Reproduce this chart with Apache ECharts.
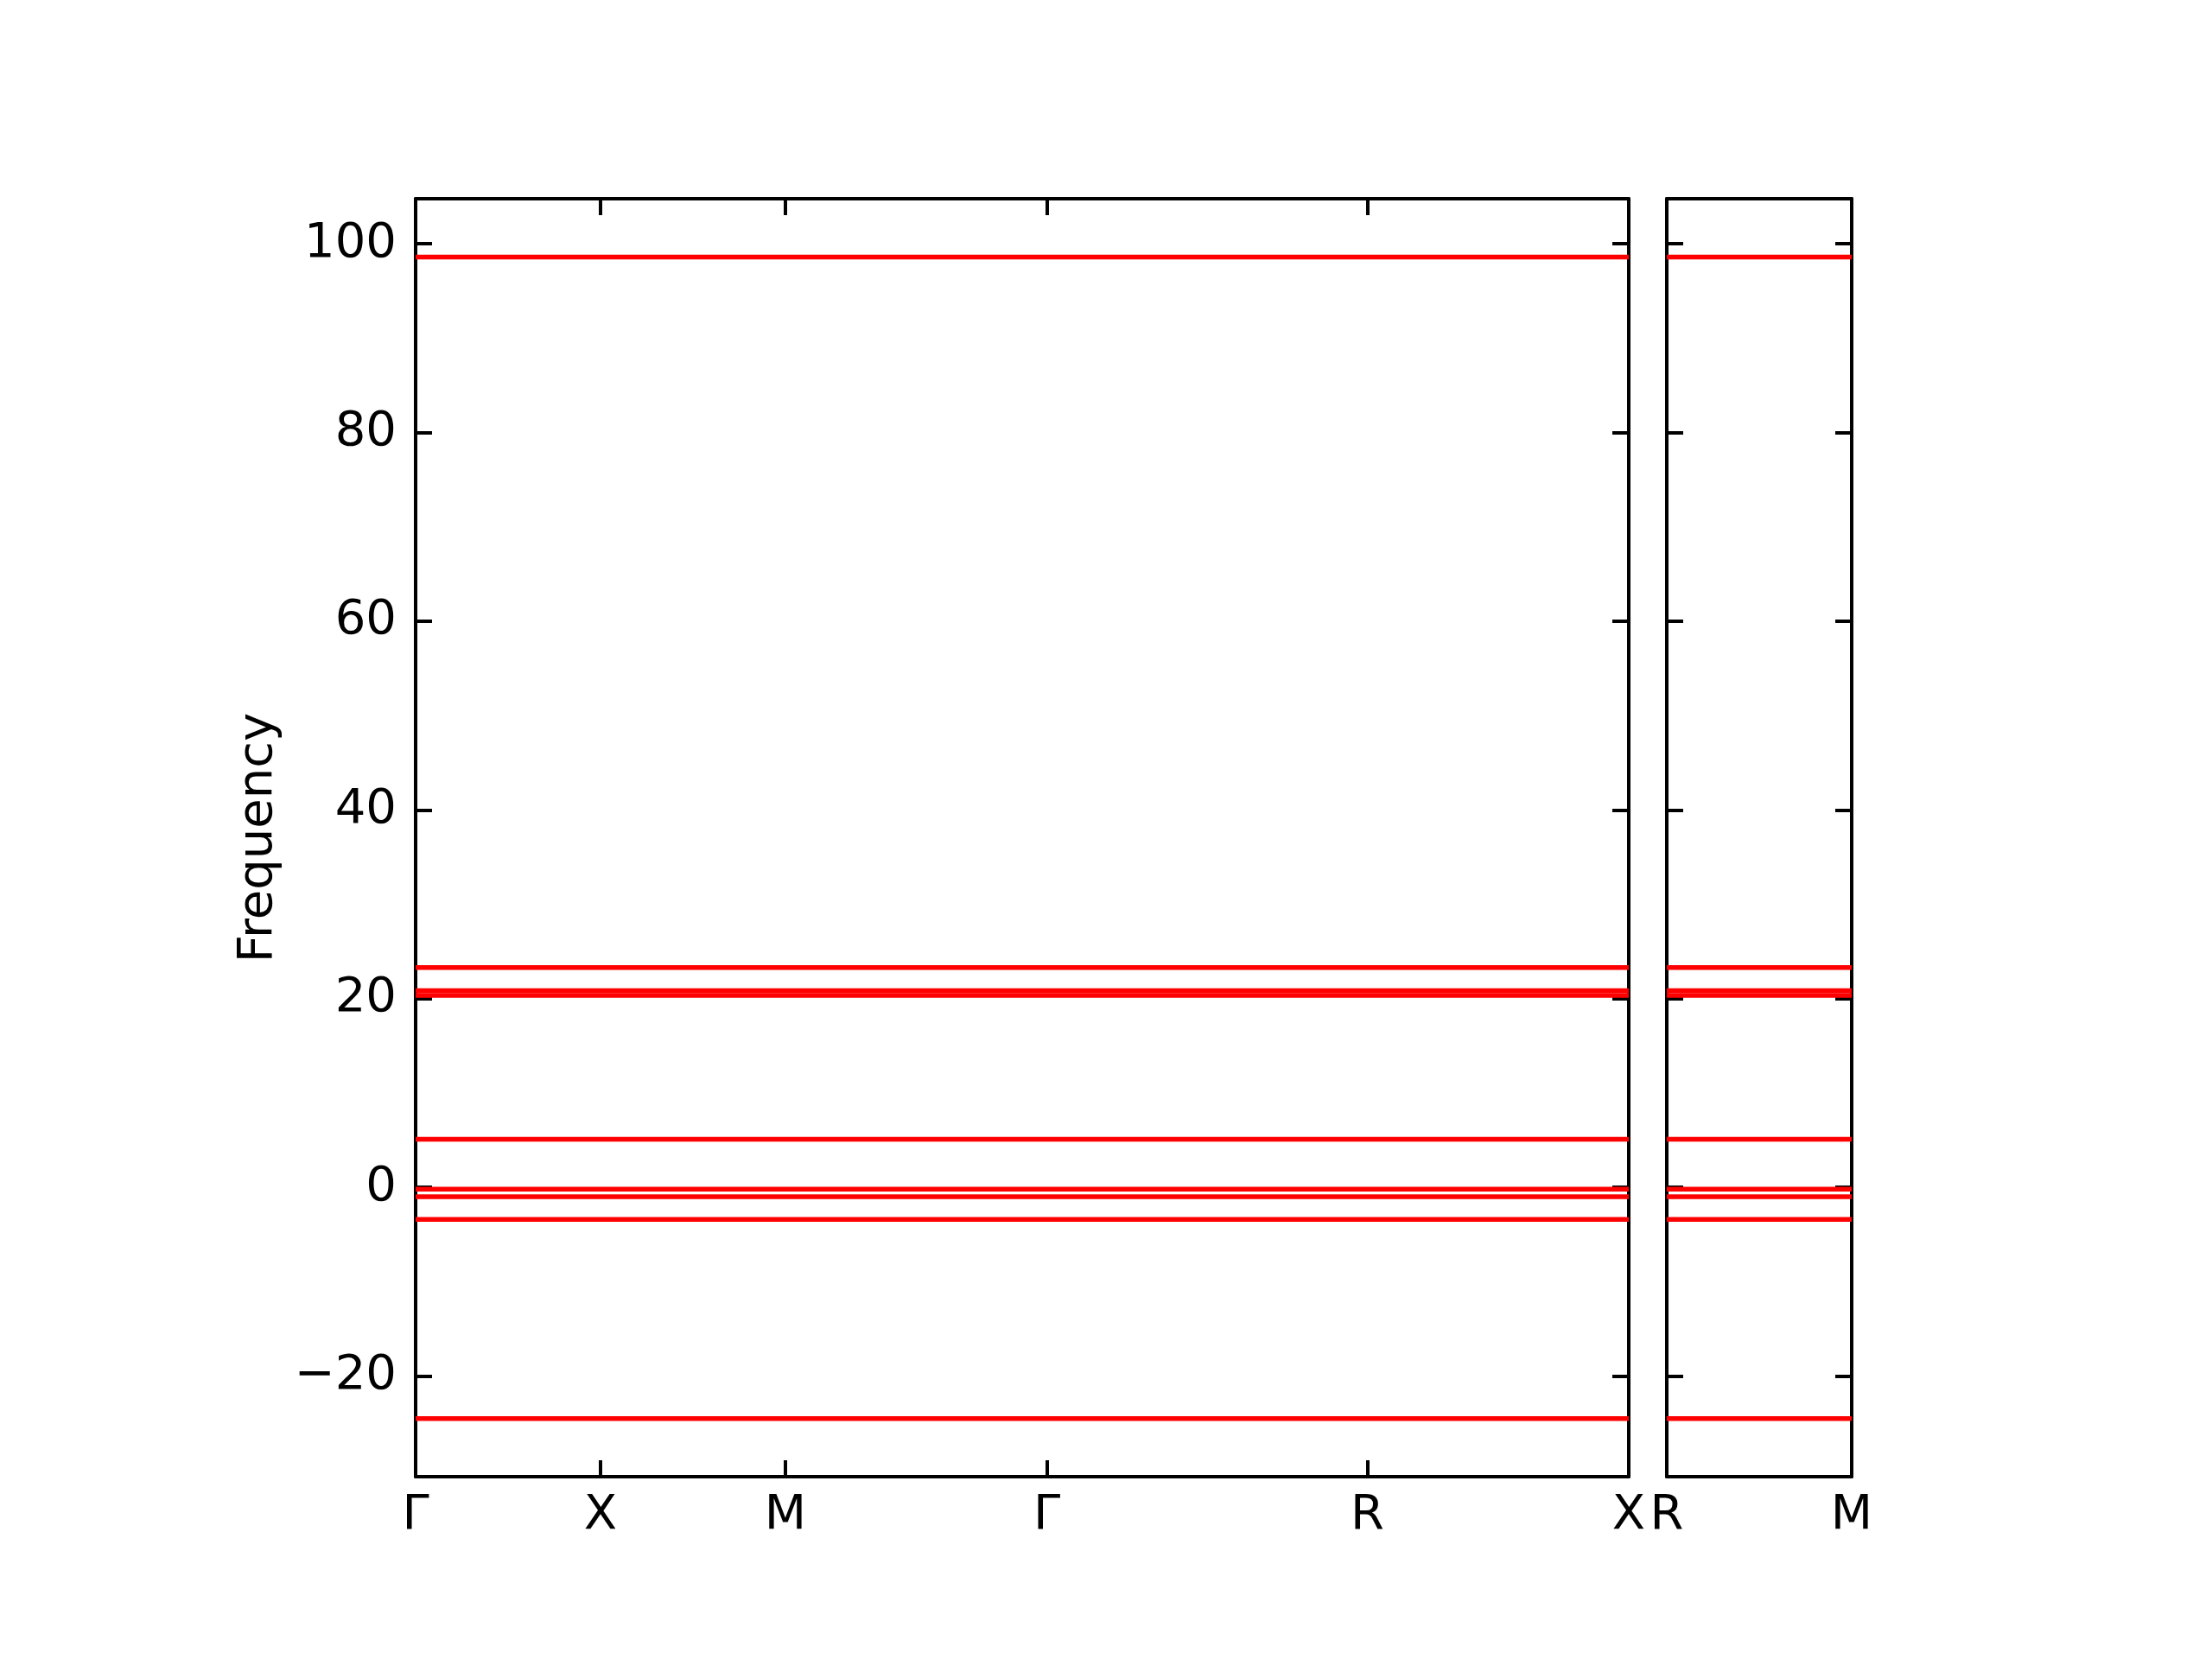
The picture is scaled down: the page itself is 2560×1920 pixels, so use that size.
<!DOCTYPE html>
<html>
<head>
<meta charset="utf-8">
<script src="https://cdn.jsdelivr.net/npm/echarts@6/dist/echarts.min.js"></script>
<style>
html,body{margin:0;padding:0;background:#fff;}
#chart{width:2560px;height:1920px;}
</style>
</head>
<body>
<div id="chart"></div>
<script>
// ---- data ----
const path1Ticks = [0, 0.5, 1.0, 1.7071, 2.5731, 3.2802];
const path1Labels = ['Γ', 'X', 'M', 'Γ', 'R', 'X'];
const path2Ticks = [3.2802, 3.7802];
const path2Labels = ['R', 'M'];
const bandFreqs = [98.6, 23.3, 20.85, 20.35, 5.1, -0.2, -1.0, -3.4, -24.5];
const yTickValues = [-20, 0, 20, 40, 60, 80, 100];
const yMin = -30.66, yMax = 104.77;
const yLabelName = 'Frequency';

// ---- chart ----
const FONT = '"DejaVu Sans", sans-serif';
const FS = 56;
const black = '#000';

function labelFor(ticks, labels) {
  return function (v) {
    for (let i = 0; i < ticks.length; i++) {
      if (Math.abs(ticks[i] - v) < 1e-6) return labels[i];
    }
    return '';
  };
}
function fmtY(v) {
  return v < 0 ? '\u2212' + Math.abs(v) : String(v);
}

const grids = [
  {left: 481, top: 230, width: 1404, height: 1479},
  {left: 1929, top: 230, width: 214, height: 1479}
];

function xAx(gridIndex, pos, ticks, labels, showLabel) {
  return {
    type: 'value', gridIndex: gridIndex, position: pos,
    min: ticks[0], max: ticks[ticks.length - 1],
    axisLine: {show: true, onZero: false, lineStyle: {color: black, width: 4}},
    axisTick: {show: true, inside: true, length: 19, customValues: ticks, lineStyle: {color: black, width: 4}},
    axisLabel: {show: showLabel, customValues: ticks, formatter: labelFor(ticks, labels),
      fontFamily: FONT, fontSize: FS, color: black, margin: 17},
    splitLine: {show: false}
  };
}
function yAx(gridIndex, pos, showLabel, name) {
  const a = {
    type: 'value', gridIndex: gridIndex, position: pos,
    min: yMin, max: yMax,
    axisLine: {show: true, onZero: false, lineStyle: {color: black, width: 4}},
    axisTick: {show: true, inside: true, length: 19, customValues: yTickValues, lineStyle: {color: black, width: 4}},
    axisLabel: {show: showLabel, customValues: yTickValues, formatter: fmtY,
      fontFamily: FONT, fontSize: FS, color: black, margin: 22, padding: [16, 0, 0, 0]},
    splitLine: {show: false}
  };
  if (name) {
    a.name = name;
    a.nameLocation = 'middle';
    a.nameGap = 154;
    a.nameTextStyle = {fontFamily: FONT, fontSize: FS, color: black};
  }
  return a;
}

const series = [];
bandFreqs.forEach(function (f) {
  series.push({
    type: 'line', xAxisIndex: 0, yAxisIndex: 0,
    data: [[path1Ticks[0], f], [path1Ticks[path1Ticks.length - 1], f]],
    symbol: 'none', lineStyle: {color: '#ff0000', width: 5.5}, silent: true, animation: false
  });
  series.push({
    type: 'line', xAxisIndex: 2, yAxisIndex: 2,
    data: [[path2Ticks[0], f], [path2Ticks[path2Ticks.length - 1], f]],
    symbol: 'none', lineStyle: {color: '#ff0000', width: 5.5}, silent: true, animation: false
  });
});

const chart = echarts.init(document.getElementById('chart'), null, {renderer: 'canvas'});
chart.setOption({
  backgroundColor: '#fff',
  animation: false,
  grid: grids,
  xAxis: [
    xAx(0, 'bottom', path1Ticks, path1Labels, true),
    xAx(0, 'top', path1Ticks, path1Labels, false),
    xAx(1, 'bottom', path2Ticks, path2Labels, true),
    xAx(1, 'top', path2Ticks, path2Labels, false)
  ],
  yAxis: [
    yAx(0, 'left', true, yLabelName),
    yAx(0, 'right', false, null),
    yAx(1, 'left', false, null),
    yAx(1, 'right', false, null)
  ],
  series: series
});
</script>
</body>
</html>
